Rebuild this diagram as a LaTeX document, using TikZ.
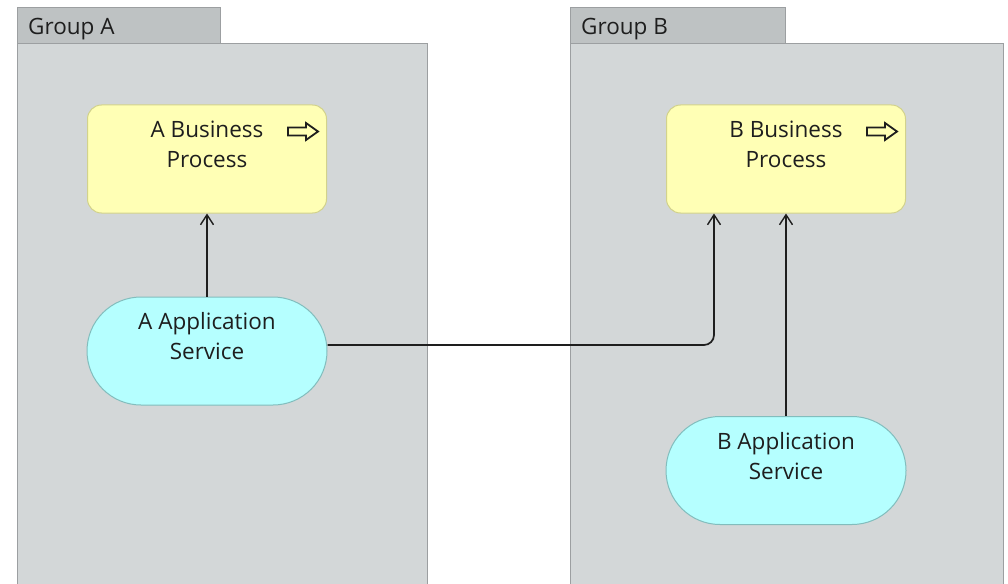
\documentclass[tikz,border=0pt]{standalone}
\usepackage{fontspec}
\setmainfont{Open Sans}
\usetikzlibrary{arrows.meta,calc,shapes.misc}

\definecolor{groupfill}{HTML}{D3D7D8}
\definecolor{tabfill}{HTML}{BEC2C3}
\definecolor{groupline}{HTML}{9C9FA1}
\definecolor{bizfill}{HTML}{FFFFB5}
\definecolor{bizline}{HTML}{D2D28C}
\definecolor{appfill}{HTML}{B5FFFF}
\definecolor{appline}{HTML}{82BDBD}
\definecolor{inkdark}{HTML}{1E1E1E}

\tikzset{
  groupbody/.style={draw=groupline, fill=groupfill, line width=1pt},
  grouptab/.style={draw=groupline, fill=tabfill, line width=1pt},
  grouplabel/.style={anchor=base west, inner sep=0pt, text=inkdark,
    font=\fontsize{22.5}{27}\selectfont},
  bizproc/.style={draw=bizline, fill=bizfill, line width=1pt, rounded corners=14pt,
    minimum width=239pt, minimum height=108pt, inner sep=0pt},
  appsvc/.style={draw=appline, fill=appfill, line width=1pt, rounded rectangle,
    minimum width=240pt, minimum height=108pt, inner sep=0pt},
  elemtext/.style={anchor=north, align=center, inner sep=0pt, text=inkdark,
    font=\fontsize{22.5}{30}\selectfont},
  procicon/.style={draw=inkdark, fill=bizfill, line width=1.8pt, line join=miter},
  conn/.style={draw=inkdark, line width=1.7pt,
    -{Straight Barb[length=10pt,width=13pt,line width=1.4pt]}},
}

\begin{document}
\begin{tikzpicture}[x=1pt, y=-1pt]
  \clip (0,0) rectangle (1008,583);
  \fill[white] (0,0) rectangle (1008,583);

  % Group A
  \draw[groupbody] (17,600) -- (17,44) -- (427,44) -- (427,600);
  \draw[grouptab] (17,44) rectangle (220,8);
  \node[grouplabel] (glA) at (28,35) {Group A};

  % Group B
  \draw[groupbody] (570,600) -- (570,44) -- (1003,44) -- (1003,600);
  \draw[grouptab] (570,44) rectangle (785,8);
  \node[grouplabel] (glB) at (581,35) {Group B};

  % Business processes
  \node[bizproc] (abp) at (207,159) {};
  \node[elemtext] (abpt) at ($(abp.north)+(0,16)$) {A Business\\Process};
  \node[bizproc] (bbp) at (786,159) {};
  \node[elemtext] (bbpt) at ($(bbp.north)+(0,16)$) {B Business\\Process};

  % Process icons (hollow block arrows)
  \foreach \bx in {abp, bbp} {
    \draw[procicon] ($(\bx.north east)+(-39,23)$) -- ++(18,0) -- ++(0,-4.5)
      -- ++(12,8.5) -- ++(-12,8.5) -- ++(0,-4.5) -- ++(-18,0) -- cycle;
  }

  % Application services
  \node[appsvc] (aapp) at (207,351) {};
  \node[elemtext] (aappt) at ($(aapp.north)+(0,16)$) {A Application\\Service};
  \node[appsvc] (bapp) at (786,470.5) {};
  \node[elemtext] (bappt) at ($(bapp.north)+(0,16)$) {B Application\\Service};

  % Serving relations
  \coordinate (aout) at ($(aapp.east)+(0,-6)$);
  \coordinate (bin) at ($(bbp.south west)+(48,0)$);
  \draw[conn] (aapp.north) -- (abp.south);
  \draw[conn, rounded corners=10pt] (aout) -| (bin);
  \draw[conn] (bapp.north) -- (bbp.south);
\end{tikzpicture}
\end{document}
